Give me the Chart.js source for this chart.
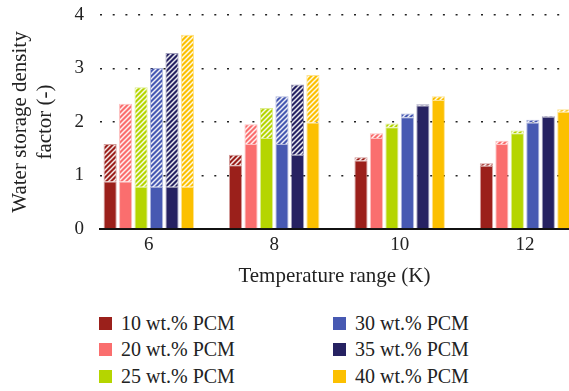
<!DOCTYPE html>
<html>
<head>
<meta charset="utf-8">
<script src="https://cdn.jsdelivr.net/npm/chart.js@4/dist/chart.umd.min.js"></script>
<style>
  html, body { margin: 0; padding: 0; background: #fff; overflow: hidden; }
  #wrap { position: relative; width: 569px; height: 391px; }
  #chartBox { position: absolute; left: 0; top: 0; width: 569px; height: 300px; }
  .item { position: absolute; display: flex; align-items: center; height: 26px;
          font-family: "Liberation Serif", serif; font-size: 20px; color: #222; white-space: nowrap; }
  .item span.box { display: inline-block; width: 13px; height: 13px; margin-right: 9px; }
</style>
</head>
<body>
<div id="wrap">
  <div id="chartBox"><canvas id="storageChart" width="569" height="300"></canvas></div>
  <div id="legend"></div>
</div>
<script>
// === DATA ===
const tempRange = [6, 8, 10, 12];
const seriesNames = ["10 wt.% PCM", "20 wt.% PCM", "25 wt.% PCM", "30 wt.% PCM", "35 wt.% PCM", "40 wt.% PCM"];
const seriesColors = ["#9b201b", "#fa6e6e", "#b5d500", "#4759b2", "#262262", "#fcc000"];

// solid (lower) part of each bar
const solid10 = [0.89, 1.19, 1.28, 1.18];
const solid20 = [0.89, 1.59, 1.70, 1.59];
const solid25 = [0.79, 1.70, 1.90, 1.79];
const solid30 = [0.79, 1.59, 2.09, 1.99];
const solid35 = [0.79, 1.39, 2.31, 2.10];
const solid40 = [0.79, 1.99, 2.41, 2.19];

// total bar height (top of hatched part)
const total10 = [1.59, 1.39, 1.34, 1.23];
const total20 = [2.34, 1.96, 1.79, 1.65];
const total25 = [2.65, 2.26, 1.97, 1.84];
const total30 = [3.01, 2.48, 2.16, 2.04];
const total35 = [3.29, 2.70, 2.33, 2.11];
const total40 = [3.63, 2.88, 2.48, 2.24];

const yTicks = [0, 1, 2, 3, 4];

const solids = [solid10, solid20, solid25, solid30, solid35, solid40];
const totals = [total10, total20, total25, total30, total35, total40];

// diagonal white hatch on the series colour
function hatch(color) {
  const c = document.createElement("canvas");
  c.width = c.height = 5;
  const g = c.getContext("2d");
  g.fillStyle = color;
  g.fillRect(0, 0, 5, 5);
  g.strokeStyle = "rgba(255,255,255,0.9)";
  g.lineWidth = 1.5;
  g.beginPath();
  g.moveTo(0, 5); g.lineTo(5, 0);
  g.moveTo(-1, 1); g.lineTo(1, -1);
  g.moveTo(4, 6); g.lineTo(6, 4);
  g.stroke();
  return g.createPattern(c, "repeat");
}

const datasets = [];
seriesNames.forEach((name, i) => {
  datasets.push({
    label: name,
    data: solids[i],
    backgroundColor: seriesColors[i],
    borderColor: seriesColors[i] + "70",
    borderWidth: 1,
    stack: "s" + i
  });
});
seriesNames.forEach((name, i) => {
  datasets.push({
    label: name + " (extra)",
    data: totals[i].map((t, k) => +(t - solids[i][k]).toFixed(2)),
    backgroundColor: hatch(seriesColors[i]),
    borderColor: seriesColors[i] + "70",
    borderWidth: 1,
    stack: "s" + i
  });
});

const serif = "'Liberation Serif', 'Times New Roman', serif";

new Chart(document.getElementById("storageChart"), {
  type: "bar",
  data: { labels: tempRange, datasets: datasets },
  options: {
    responsive: false,
    animation: false,
    categoryPercentage: 0.74,
    barPercentage: 0.85,
    layout: { padding: { left: 0, right: 0, top: 15, bottom: 0 } },
    plugins: { legend: { display: false }, tooltip: { enabled: false } },
    scales: {
      x: {
        type: "linear",
        min: 5.22,
        max: 12.7,
        offset: false,
        afterBuildTicks: s => { s.ticks = tempRange.map(v => ({ value: v })); },
        grid: { display: false, drawTicks: false },
        border: { display: true, color: "#111", width: 2 },
        ticks: { color: "#222", padding: 5, font: { family: serif, size: 19 } },
        title: {
          display: true, text: "Temperature range (K)", color: "#222",
          font: { family: serif, size: 21 }, padding: { top: 2, bottom: 11 }
        }
      },
      y: {
        stacked: true,
        min: 0,
        max: 4,
        afterBuildTicks: s => { s.ticks = yTicks.map(v => ({ value: v })); },
        // the tick padding would otherwise also push the plot down from the top
        afterFit: s => { s.paddingTop = 0; s.paddingBottom = 0; },
        grid: { color: "#222", lineWidth: 1.5, drawTicks: false },
        border: { display: false, dash: [2, 10.7] },
        ticks: { color: "#222", padding: 16, font: { family: serif, size: 19 } },
        title: {
          display: true, text: ["Water storage density", "factor (-)"], color: "#222",
          font: { family: serif, size: 21 }, padding: { top: 8, bottom: 0 }
        }
      }
    }
  }
});

// === LEGEND (two columns) ===
const legend = document.getElementById("legend");
seriesNames.forEach((name, i) => {
  const col = Math.floor(i / 3), row = i % 3;
  const el = document.createElement("div");
  el.className = "item";
  el.style.left = (99 + col * 234) + "px";
  el.style.top = (310 + row * 26.6) + "px";
  el.innerHTML = '<span class="box" style="background:' + seriesColors[i] + '"></span>' + name;
  legend.appendChild(el);
});
</script>
</body>
</html>
